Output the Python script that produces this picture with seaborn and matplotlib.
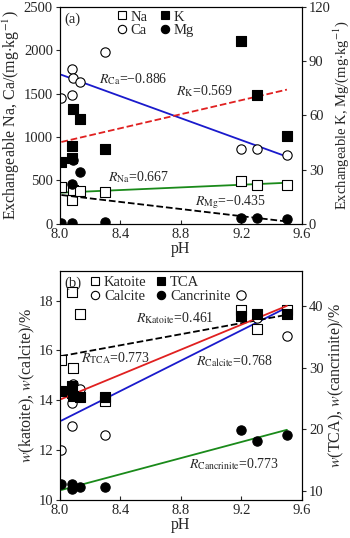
import numpy as np
import pandas as pd
import matplotlib
matplotlib.use('Agg')
import matplotlib.pyplot as plt
import seaborn as sns
from matplotlib.lines import Line2D

sns.set_theme(style='ticks')
plt.rcParams['font.family'] = ['Liberation Serif', 'DejaVu Serif']
plt.rcParams['mathtext.fontset'] = 'stix'
plt.rcParams['font.size'] = 10

# ---- panel (a) data: exchangeable cations vs pH ----
ph_na = [8.01, 8.08, 8.09, 8.13, 8.30, 9.20, 9.30, 9.50]
na = [420, 270, 390, 383, 364, 495, 450, 450]
ph_ca = [8.01, 8.08, 8.08, 8.09, 8.13, 8.30, 9.20, 9.30, 9.50]
ca = [1455, 1780, 1480, 1680, 1640, 1985, 866, 866, 799]
ph_k = [8.01, 8.08, 8.08, 8.09, 8.13, 8.30, 9.20, 9.30, 9.50]
k = [34.4, 43.0, 36.2, 63.4, 58.0, 41.6, 101.0, 71.1, 48.4]
ph_mg = [8.01, 8.08, 8.08, 8.09, 8.13, 8.30, 9.20, 9.30, 9.50]
mg = [0.7, 0.7, 22.3, 35.5, 28.8, 1.2, 3.1, 3.4, 2.5]

# ---- panel (b) data: mineral contents vs pH ----
ph_kat = [8.01, 8.08, 8.08, 8.09, 8.13, 8.30, 9.20, 9.30, 9.50]
katoite = [15.62, 18.36, 14.30, 15.28, 17.46, 13.97, 17.60, 16.85, 17.60]
ph_cal = [8.01, 8.08, 8.08, 8.09, 8.13, 8.30, 9.20, 9.30, 9.50]
calcite = [11.98, 12.96, 13.90, 14.64, 14.44, 12.62, 18.23, 17.30, 16.56]
ph_tca = [8.01, 8.08, 8.09, 8.13, 8.30, 9.20, 9.30, 9.50]
tca = [26.2, 27.1, 25.4, 25.3, 25.3, 38.4, 38.8, 38.8]
ph_can = [8.01, 8.08, 8.08, 8.13, 8.30, 9.20, 9.30, 9.50]
cancrinite = [11.0, 11.0, 10.3, 10.6, 10.6, 19.9, 18.0, 19.1]

fig = plt.figure(figsize=(3.5, 5.38), dpi=100)
ax1 = fig.add_axes([0.171, 0.584, 0.692, 0.403])
ax2 = fig.add_axes([0.171, 0.071, 0.692, 0.426])

ms = 45
lw_m = 0.8
fs_tick = 10.5
fs_lab = 11.5
fs_txt = 10


def pts(ax, x, y, marker, filled):
    sns.scatterplot(x=x, y=y, ax=ax, marker=marker, s=ms,
                    color='black' if filled else 'white',
                    edgecolor='black', linewidth=lw_m, zorder=3)


def fit(ax, x, y, color, ls='-'):
    sns.regplot(x=np.array(x), y=np.array(y), ax=ax, scatter=False, ci=None,
                truncate=True, line_kws=dict(color=color, lw=1.3, ls=ls, zorder=2))


def style(ax, axr):
    for a in (ax, axr):
        a.tick_params(axis='both', labelsize=fs_tick, width=0.8, length=3, pad=2)
        for s in a.spines.values():
            s.set_linewidth(0.8)
            s.set_color('black')
    ax.tick_params(axis='x', direction='in', pad=3)
    ax.set_xlim(8.0, 9.6)
    ax.set_xticks([8.0, 8.4, 8.8, 9.2, 9.6])
    ax.set_xlabel('pH', fontsize=fs_lab, labelpad=0)


def handles(names, markers, fills):
    return [Line2D([], [], ls='', marker=m, markersize=6,
                   markerfacecolor='black' if f else 'white',
                   markeredgecolor='black', markeredgewidth=lw_m, label=n)
            for n, m, f in zip(names, markers, fills)]


# ---- panel (a) ----
ax1r = ax1.twinx()
pts(ax1, ph_na, na, 's', False)
pts(ax1, ph_ca, ca, 'o', False)
fit(ax1, ph_ca, ca, '#1a1acc')
fit(ax1, ph_na, na, '#1a8a1a')
pts(ax1r, ph_k, k, 's', True)
pts(ax1r, ph_mg, mg, 'o', True)
fit(ax1r, ph_k, k, '#e02020', '--')
fit(ax1r, ph_mg, mg, 'black', '--')

ax1.set_ylim(0, 2500)
ax1.set_yticks([0, 500, 1000, 1500, 2000, 2500])
ax1r.set_ylim(0, 120)
ax1r.set_yticks([0, 30, 60, 90, 120])
ax1.set_ylabel(r'Exchangeable Na, Ca/(mg$\cdot$kg$^{-1}$)', fontsize=fs_lab, labelpad=1)
ax1r.set_ylabel(r'Exchangeable K, Mg/(mg$\cdot$kg$^{-1}$)', fontsize=10.5, labelpad=0.5)
style(ax1, ax1r)

ax1.text(8.26, 1667, r'$R_{\mathrm{Ca}}$=−0.886', va='center', fontsize=fs_txt, zorder=5)
ax1.text(8.77, 1530, r'$R_{\mathrm{K}}$=0.569', va='center', fontsize=fs_txt, zorder=5)
ax1.text(8.32, 533, r'$R_{\mathrm{Na}}$=0.667', va='center', fontsize=fs_txt, zorder=5)
ax1.text(8.89, 251, r'$R_{\mathrm{Mg}}$=−0.435', va='center', fontsize=fs_txt, zorder=5)
ax1r.text(0.02, 0.975, '(a)', transform=ax1r.transAxes, va='top', fontsize=fs_tick)

ax1r.legend(handles=handles(['Na', 'Ca', 'K', 'Mg'], ['s', 'o', 's', 'o'],
                            [False, False, True, True]),
            ncol=2, loc='upper left', bbox_to_anchor=(0.19, 1.025), frameon=False,
            fontsize=fs_tick, handletextpad=0.1, columnspacing=0.7, labelspacing=0.05,
            handlelength=1.0, borderaxespad=0.2)

# ---- panel (b) ----
ax2r = ax2.twinx()
pts(ax2, ph_kat, katoite, 's', False)
pts(ax2, ph_cal, calcite, 'o', False)
fit(ax2, ph_cal, calcite, '#1a1acc')
fit(ax2, ph_kat, katoite, 'black', '--')
pts(ax2r, ph_tca, tca, 's', True)
pts(ax2r, ph_can, cancrinite, 'o', True)
fit(ax2r, ph_tca, tca, '#e02020')
fit(ax2r, ph_can, cancrinite, '#1a8a1a')

ax2.set_ylim(10, 19.2)
ax2.set_yticks([10, 12, 14, 16, 18])
ax2r.set_ylim(8.5, 45.8)
ax2r.set_yticks([10, 20, 30, 40])
ax2.set_ylabel(r'$w$(katoite), $w$(calcite)/%', fontsize=fs_lab, labelpad=1)
ax2r.set_ylabel(r'$w$(TCA), $w$(cancrinite)/%', fontsize=fs_lab, labelpad=2)
style(ax2, ax2r)

ax2r.text(8.50, 17.29, r'$R_{\mathrm{Katoite}}$=0.461', transform=ax2.transData,
          va='center', fontsize=fs_txt, zorder=5)
ax2r.text(8.14, 15.67, r'$R_{\mathrm{TCA}}$=0.773', transform=ax2.transData,
          va='center', fontsize=fs_txt, zorder=5)
ax2r.text(8.90, 15.58, r'$R_{\mathrm{Calcite}}$=0.768', transform=ax2.transData,
          va='center', fontsize=fs_txt, zorder=5)
ax2r.text(8.85, 11.44, r'$R_{\mathrm{Cancrinite}}$=0.773', transform=ax2.transData,
          va='center', fontsize=fs_txt, zorder=5)
ax2r.text(0.02, 0.975, '(b)', transform=ax2r.transAxes, va='top', fontsize=fs_tick)

ax2r.legend(handles=handles(['Katoite', 'Calcite', 'TCA', 'Cancrinite'],
                            ['s', 'o', 's', 'o'], [False, False, True, True]),
            ncol=2, loc='upper left', bbox_to_anchor=(0.08, 1.015), frameon=False,
            fontsize=fs_tick, handletextpad=0.1, columnspacing=0.5, labelspacing=0.05,
            handlelength=1.0, borderaxespad=0.2)

fig.savefig('out.png', dpi=100)
